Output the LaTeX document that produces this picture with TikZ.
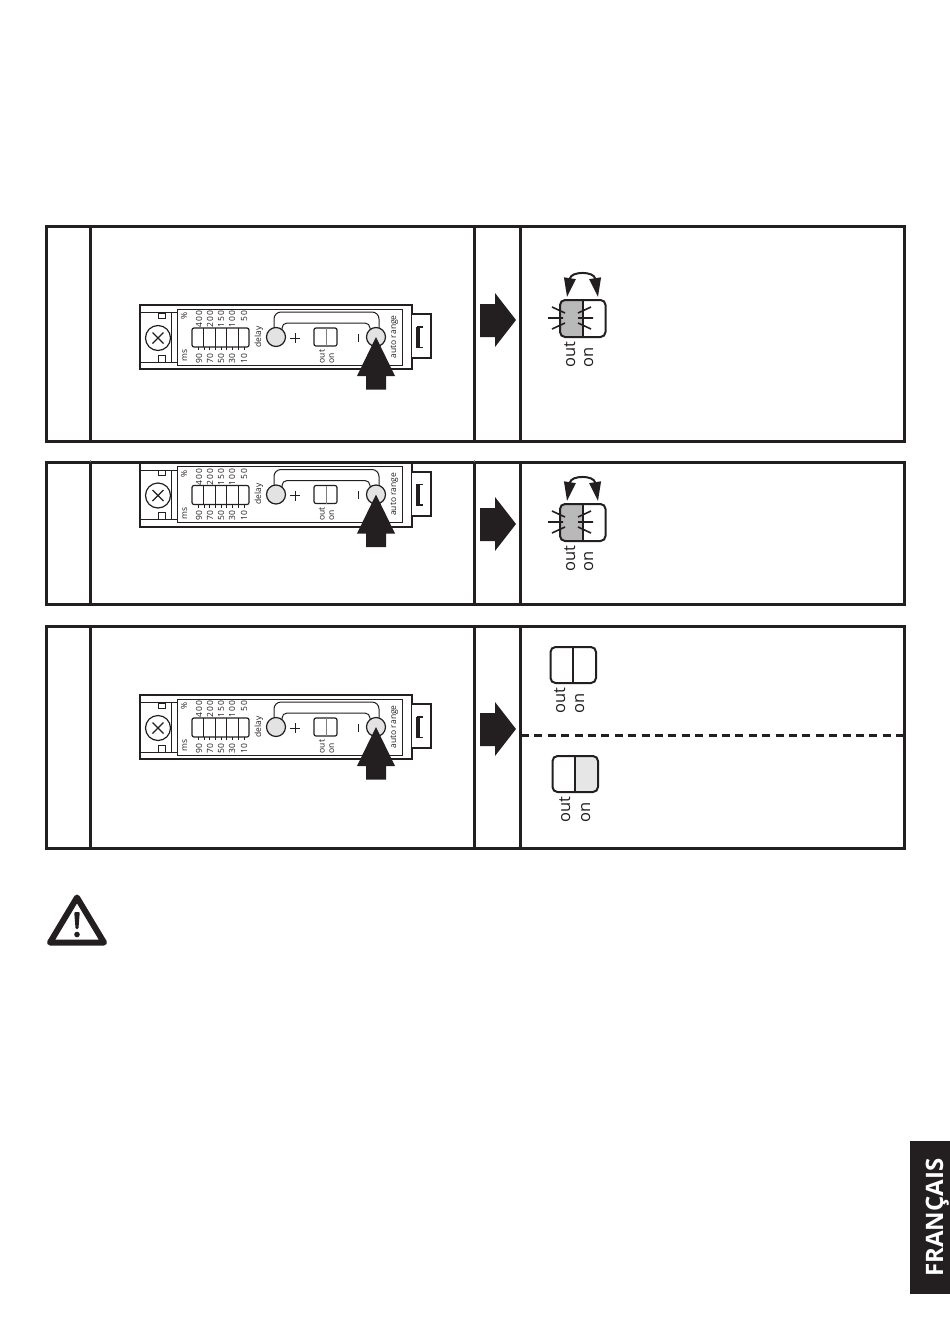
\documentclass[tikz,border=0pt]{standalone}
\usepackage{fontspec}
\setmainfont{Open Sans}
\usetikzlibrary{arrows.meta}

\definecolor{inkblack}{HTML}{231F20}
\definecolor{ledgray}{HTML}{B9B9B9}
\definecolor{btngray}{HTML}{E3E3E3}
\definecolor{onlight}{HTML}{E6E6E6}

\tikzset{
	vlabel/.style={rotate=90,anchor=base west,inner sep=0pt,text=inkblack},
	tiny label/.style={vlabel,font=\fontsize{8.5}{8.5}\selectfont},
	tiny number/.style={vlabel,font=\fontsize{8.5}{8.5}\selectfont\addfontfeature{LetterSpace=14}},
	led label/.style={vlabel,font=\fontsize{16.5}{16.5}\selectfont},
	frame line/.style={line width=3pt,inkblack},
	thin part/.style={line width=1pt,inkblack},
	big arrow/.style={fill=inkblack,draw=none}
}

% sensor front panel, #1 = vertical shift, #2 = name prefix
\newcommand{\sensorpanel}[2]{
	\begin{scope}[shift={(0,#1)},name prefix=#2-]
		\draw[line width=2pt,inkblack] (140,305) rectangle (412,369);
		\draw[thin part] (177,309) rectangle (402,365);
		\draw[thin part] (140,312.5)--(177,312.5) (140,362)--(177,362) (171,312.5)--(171,362);
		\draw[thin part] (158,313) rectangle (165,318);
		\draw[thin part] (158,355) rectangle (165,362);
		\draw[line width=1.2pt,inkblack] (158,338) circle (12.5);
		\draw[line width=1.2pt,inkblack] (152.5,332.5)--(163.5,343.5) (163.5,332.5)--(152.5,343.5);
		\draw[line width=1.2pt,inkblack,rounded corners=2pt] (192,328) rectangle (249,347);
		\foreach \sx in {203.5,215,226.5,238}
			\draw[thin part] (\sx,328)--(\sx,347);
		\foreach \sx in {198,204,209,215,221,226,232,238,244}
			\draw[line width=0.7pt,inkblack] (\sx,347)--(\sx,350);
		\foreach \sx/\low/\high in {199/90/400,210/70/200,221/50/150,232/30/100,244/10/50}{
			\node[tiny label] (low\low) at (\sx+3,363.5) {\low};
			\node[tiny number,anchor=base east] (high\high) at (\sx+3,310.5) {\high};
		}
		\node[tiny label] (ms) at (187,362) {ms};
		\node[tiny label] (percent) at (187,320) {\%};
		\node[tiny label] (delay) at (261,347.5) {delay};
		\draw[thin part,rounded corners=7pt] (274,330)--(274,312)--(379,312)--(379,330);
		\draw[thin part,rounded corners=5pt] (282,330)--(282,323)--(370,323)--(370,330);
		\draw[line width=1.2pt,inkblack,fill=btngray] (276,337) circle (9.5);
		\draw[line width=1.2pt,inkblack,fill=btngray] (376,337) circle (9.5);
		\draw[thin part] (290,338)--(300,338) (295,333)--(295,343);
		\draw[thin part] (358,333.5)--(358,341.5);
		\draw[line width=1.2pt,inkblack,rounded corners=2pt] (314,328) rectangle (337,346);
		\draw[line width=1pt,gray] (326,328)--(326,346);
		\node[tiny label] (out) at (324.5,363.5) {out};
		\node[tiny label] (on) at (334,363.5) {on};
		\node[tiny label] (autorange) at (396,358.5) {auto range};
		\draw[line width=2pt,inkblack,fill=white] (412,314)--(430.5,314)--(430.5,358)--(412,358);
		\draw[line width=1.2pt,inkblack] (423,327)--(417,327) (417,347.5)--(423,347.5);
		\draw[line width=3.4pt,inkblack] (418,326.5)--(418,348);
		\fill[big arrow] (376,337)--(395,376)--(386,376)--(386,389.5)--(366,389.5)--(366,376)--(357,376)--cycle;
	\end{scope}
}

% blinking indicator with the two way arrow, #1 = vertical shift, #2 = name prefix
\newcommand{\blinkled}[2]{
	\begin{scope}[shift={(0,#1)},name prefix=#2-]
		\fill[ledgray,rounded corners=5pt] (560,300) rectangle (590,337);
		\fill[white] (583,299) rectangle (600,338);
		\draw[line width=2pt,inkblack,rounded corners=5pt] (560,300) rectangle (605.5,337);
		\draw[line width=1.6pt,inkblack] (583,300)--(583,337);
		\draw[line width=1.6pt,inkblack] (548,318)--(563,318) (552,307)--(565,313) (552,329)--(565,323);
		\draw[line width=1.6pt,inkblack] (578,318)--(593,318) (578,313)--(591,307) (578,323)--(591,329);
		\draw[line width=2pt,inkblack,{Triangle[length=19pt,width=11.5pt]}-{Triangle[length=19pt,width=11.5pt]}]
			(567,297) .. controls (571,271) and (594,271) .. (598,297);
		\node[led label] (out) at (575,367.5) {out};
		\node[led label] (on) at (593,367.5) {on};
	\end{scope}
}

% arrow between the two columns, #1 = y of the tip
\newcommand{\steparrow}[1]{
	\fill[big arrow] (516,#1)--(495,#1+27)--(495,#1+17)--(480,#1+17)--(480,#1-16)--(495,#1-16)--(495,#1-27)--cycle;
}

\begin{document}
\begin{tikzpicture}[x=1pt,y=-1pt]
	\useasboundingbox (0,0) rectangle (950,1344);

	% table rows
	\draw[frame line] (46.5,226.5) rectangle (904.5,441);
	\draw[frame line] (46.5,462.5) rectangle (904.5,604);
	\draw[frame line] (46.5,626.5) rectangle (904.5,848);
	\foreach \cx in {90,474,520}{
		\draw[frame line] (\cx,226.5)--(\cx,441);
		\draw[frame line] (\cx,462.5)--(\cx,604);
		\draw[frame line] (\cx,626.5)--(\cx,848);
	}
	\foreach \cx in {90,474}
		\draw[line width=1pt,gray] (\cx,460)--(\cx,462);

	\sensorpanel{0}{first}
	\sensorpanel{157.5}{second}
	\sensorpanel{390}{third}

	\steparrow{320}
	\steparrow{524}
	\steparrow{729}

	\blinkled{0}{firstled}
	\blinkled{204}{secondled}

	% steady indicators of the last row
	\draw[line width=2pt,inkblack,rounded corners=5pt] (550.5,647) rectangle (596,683);
	\draw[line width=1.6pt,inkblack] (573,647)--(573,683);
	\node[led label] (offout) at (565,713.5) {out};
	\node[led label] (offon) at (584,713.5) {on};

	\draw[line width=3pt,inkblack,dash pattern=on 8pt off 5.4pt] (521,735)--(905,735);

	\fill[onlight] (575,756)[rounded corners=5pt]--(598,756)--(598,792)[sharp corners]--(575,792)--cycle;
	\draw[line width=2pt,inkblack,rounded corners=5pt] (552.5,756) rectangle (598,792);
	\draw[line width=1.6pt,inkblack] (575,756)--(575,792);
	\node[led label] (steadyout) at (570,822.5) {out};
	\node[led label] (steadyon) at (590,822.5) {on};

	% warning sign
	\draw[line width=6pt,inkblack,line join=round] (77,897.5)--(104,942.5)--(50,942.5)--cycle;
	\fill[inkblack,rounded corners=1pt] (74.2,912)--(79.8,912)--(78.4,929)--(75.6,929)--cycle;
	\fill[inkblack] (77,934.5) circle (2.8);

	% language tab
	\fill[inkblack] (909.5,1140.5) rectangle (950,1294);
	\node[rotate=90,anchor=base west,inner sep=0pt,text=white,font=\fontsize{24}{24}\bfseries\selectfont] (langtab) at (943,1277) {FRANÇAIS};
\end{tikzpicture}
\end{document}
